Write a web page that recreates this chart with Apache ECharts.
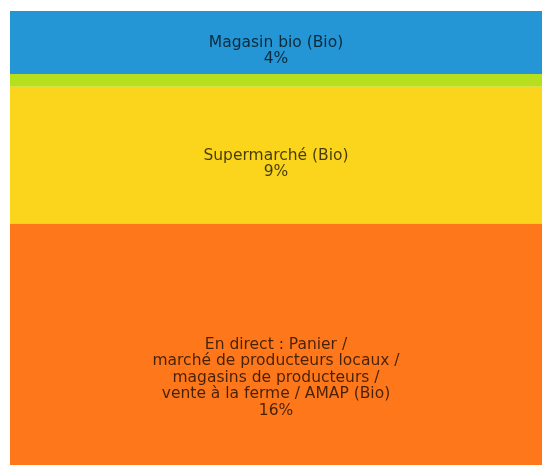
<!DOCTYPE html>
<html><head><meta charset="utf-8">
<script src="https://cdn.jsdelivr.net/npm/echarts@6/dist/echarts.min.js"></script>
<style>html,body{margin:0;padding:0;background:#fff}#c{width:542px;height:465px}</style>
</head><body><div id="c"></div>
<script>
var categories = ['Magasin bio (Bio)', 'Autre (Bio)', 'Supermarché (Bio)', 'En direct : Panier /\nmarché de producteurs locaux /\nmagasins de producteurs /\nvente à la ferme / AMAP (Bio)'];
var values = [4.2, 0.85, 9.13, 16.07];
var showLabel = [true, false, true, true];
var colors = ['#2596d5', '#b6df1e', '#fad51c', '#fe781b'];

var total = values.reduce(function(a,b){return a+b;},0);
var series = categories.map(function(name, i){
  return {
    type: 'bar', stack: 'all', name: name, barWidth: '100%',
    data: [values[i]],
    itemStyle: { color: colors[i] },
    label: {
      show: showLabel[i], position: 'inside', verticalAlign: 'top', offset: [0, -8],
      formatter: function(p){ return p.seriesName + '\n' + Math.round(p.value) + '%'; },
      color: 'rgba(0,0,0,0.72)', fontFamily: 'DejaVu Sans', fontSize: 15.5, lineHeight: 16.5
    },
    emphasis: { disabled: true }
  };
});
var chart = echarts.init(document.getElementById('c'));
chart.setOption({
  animation: false,
  grid: { left: 10, right: 0, top: 11, bottom: 0, containLabel: false },
  xAxis: { type: 'category', data: [''], show: false },
  yAxis: { type: 'value', inverse: true, min: 0, max: total, show: false },
  series: series
});
</script></body></html>
